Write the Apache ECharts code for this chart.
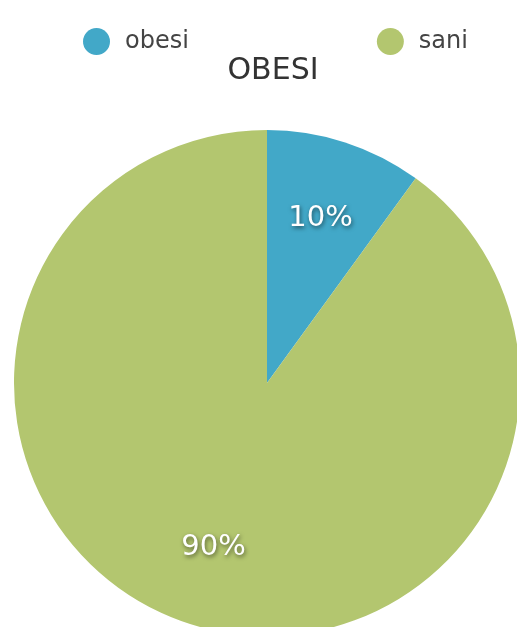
<!DOCTYPE html>
<html>
<head>
<meta charset="utf-8">
<script src="https://cdn.jsdelivr.net/npm/echarts@6/dist/echarts.min.js"></script>
<style>
  html, body { margin: 0; padding: 0; background: #fff; }
  #chart { width: 517px; height: 627px; }
</style>
</head>
<body>
<div id="chart"></div>
<script>
var categories = ["obesi", "sani"];
var values = [10, 90];
var colors = ["#42a8c8", "#b3c66f"];

var pieData = categories.map(function (name, i) {
  return { name: name, value: values[i] };
});

var chart = echarts.init(document.getElementById("chart"));
var option = {
  color: colors,
  animation: false,
  textStyle: { fontFamily: "DejaVu Sans" },
  title: {
    text: "OBESI",
    left: 268,
    textAlign: "center",
    top: 51,
    textStyle: { fontFamily: "DejaVu Sans", fontSize: 30, fontWeight: "normal", color: "#333" }
  },
  legend: {
    data: categories,
    top: 23,
    left: 78,
    icon: "circle",
    itemWidth: 27,
    itemHeight: 27,
    itemGap: 188,
    textStyle: { fontFamily: "DejaVu Sans", fontSize: 24, color: "#444", padding: [0, 0, 0, 10] }
  },
  series: [
    {
      // full pie, colours only
      type: "pie",
      center: [267, 383],
      radius: [0, 253],
      startAngle: 90,
      clockwise: true,
      label: { show: false },
      labelLine: { show: false },
      emphasis: { disabled: true },
      data: pieData
    },
    {
      // transparent ring used to place the labels further out
      type: "pie",
      center: [267, 383],
      radius: [87, 253],
      startAngle: 90,
      clockwise: true,
      silent: true,
      itemStyle: { color: "rgba(0,0,0,0)" },
      label: {
        show: true,
        position: "inside",
        formatter: "{d}%",
        fontFamily: "DejaVu Sans",
        fontSize: 29,
        color: "#fff",
        textShadowColor: "rgba(0,0,0,0.55)",
        textShadowBlur: 4,
        textShadowOffsetX: 1,
        textShadowOffsetY: 2
      },
      labelLine: { show: false },
      data: pieData
    }
  ]
};
chart.setOption(option);
</script>
</body>
</html>
